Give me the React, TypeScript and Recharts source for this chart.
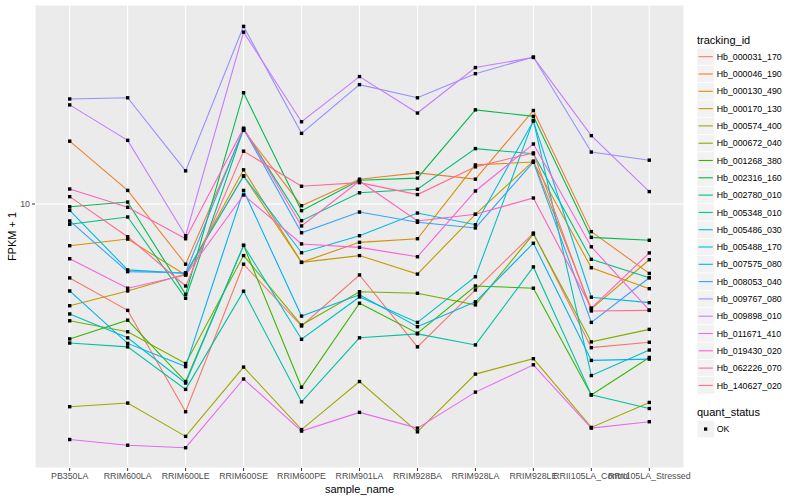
import React from 'react';
import { LineChart, Line, XAxis, YAxis, CartesianGrid } from 'recharts';

const samples = ['PB350LA', 'RRIM600LA', 'RRIM600LE', 'RRIM600SE', 'RRIM600PE', 'RRIM901LA', 'RRIM928BA', 'RRIM928LA', 'RRIM928LE', 'RRII105LA_Control', 'RRII105LA_Stressed'];

const trackingIds = ['Hb_000031_170', 'Hb_000046_190', 'Hb_000130_490', 'Hb_000170_130', 'Hb_000574_400', 'Hb_000672_040', 'Hb_001268_380', 'Hb_002316_160', 'Hb_002780_010', 'Hb_005348_010', 'Hb_005486_030', 'Hb_005488_170', 'Hb_007575_080', 'Hb_008053_040', 'Hb_009767_080', 'Hb_009898_010', 'Hb_011671_410', 'Hb_019430_020', 'Hb_062226_070', 'Hb_140627_020'];

const colors = ['#F8766D', '#EA8331', '#D89000', '#C09B00', '#A3A500', '#7CAE00', '#39B600', '#00BB4E', '#00BF7D', '#00C1A3', '#00BFC4', '#00BAE0', '#00B0F6', '#35A2FF', '#9590FF', '#C77CFF', '#E76BF3', '#FA62DB', '#FF62BC', '#FF6C91'];

const hb_000031_170 = [5.67, 4.42, 2.03, 6.30, 3.92, 5.80, 3.34, 5.17, 8.00, 3.32, 3.46];
const hb_000046_190 = [16.2, 11.1, 6.30, 17.6, 9.87, 12.1, 12.7, 12.1, 20.5, 8.09, 5.87];
const hb_000130_490 = [7.26, 7.64, 5.80, 13.0, 6.39, 7.45, 7.66, 13.5, 13.8, 6.13, 5.22];
const hb_000170_130 = [4.58, 5.13, 5.84, 12.4, 6.39, 6.73, 5.84, 9.24, 13.9, 4.47, 6.52];
const hb_000574_400 = [2.11, 2.17, 1.68, 2.86, 1.77, 2.56, 1.74, 2.71, 3.05, 1.80, 2.18];
const hb_000672_040 = [4.08, 3.75, 2.94, 6.73, 3.95, 5.10, 5.04, 4.61, 7.94, 3.47, 3.82];
const hb_001268_380 = [3.55, 4.10, 2.56, 7.28, 2.45, 4.67, 3.71, 5.33, 5.24, 2.31, 3.08];
const hb_002316_160 = [9.79, 10.15, 5.00, 23.5, 9.50, 12.0, 12.2, 20.6, 19.6, 7.74, 7.57];
const hb_002780_010 = [8.56, 9.05, 4.85, 17.8, 8.80, 10.9, 11.2, 15.3, 14.7, 6.54, 5.68];
const hb_005348_010 = [3.44, 3.34, 2.41, 5.12, 2.19, 3.58, 3.69, 3.39, 6.17, 2.31, 2.08];
const hb_005486_030 = [4.30, 3.58, 2.53, 7.28, 3.54, 4.90, 4.03, 5.72, 19.0, 2.68, 3.26];
const hb_005488_170 = [9.53, 6.03, 5.87, 12.4, 6.88, 7.84, 9.33, 8.53, 18.9, 4.89, 4.69];
const hb_007575_080 = [5.13, 3.43, 2.87, 11.1, 4.23, 4.98, 3.90, 4.72, 7.40, 3.01, 3.04];
const hb_008053_040 = [8.78, 5.95, 5.90, 17.8, 8.02, 9.40, 8.69, 8.32, 13.8, 4.03, 5.68];
const hb_009767_080 = [22.4, 22.6, 12.9, 39.1, 17.2, 25.0, 22.6, 27.2, 30.9, 14.9, 14.0];
const hb_009898_010 = [21.4, 16.3, 7.84, 37.4, 18.8, 26.6, 20.1, 28.5, 30.8, 16.9, 11.0];
const hb_011671_410 = [1.64, 1.57, 1.54, 2.61, 1.75, 2.02, 1.79, 2.36, 2.91, 1.79, 1.88];
const hb_019430_020 = [6.57, 5.24, 5.80, 10.72, 7.36, 7.17, 6.67, 11.05, 15.85, 7.20, 4.43];
const hb_062226_070 = [11.22, 9.75, 7.66, 17.9, 8.45, 11.93, 8.78, 9.24, 10.47, 4.50, 6.87];
const hb_140627_020 = [10.58, 7.78, 5.33, 15.0, 11.46, 11.78, 10.75, 13.3, 14.8, 4.40, 4.42];

const seriesValues = [hb_000031_170, hb_000046_190, hb_000130_490, hb_000170_130, hb_000574_400, hb_000672_040, hb_001268_380, hb_002316_160, hb_002780_010, hb_005348_010, hb_005486_030, hb_005488_170, hb_007575_080, hb_008053_040, hb_009767_080, hb_009898_010, hb_011671_410, hb_019430_020, hb_062226_070, hb_140627_020];

const yTicks = [10];
const yDomain = [1.318, 46.07];

const rows = samples.map((s, i) => {
  const r: Record<string, any> = { sample: s };
  trackingIds.forEach((id, k) => { r[id] = seriesValues[k][i]; });
  return r;
});

const FONT = '"Liberation Sans", Arial, Helvetica, sans-serif';

const makeDot = (id: string) => (props: any) => {
  const { cx, cy, index } = props;
  if (cx == null || cy == null || isNaN(cx) || isNaN(cy)) return <g key={`d-${id}-${index}`} />;
  return <rect key={`d-${id}-${index}`} x={cx - 1.7} y={cy - 1.7} width={3.4} height={3.4} fill="#000000" />;
};

const Legend = () => (
  <svg width={110} height={460} style={{ position: 'absolute', left: 690, top: 20 }}>
    <text x={7} y={24} fontSize={11} fontFamily={FONT} fill="#000">tracking_id</text>
    {trackingIds.map((id, k) => {
      const yc = 36.7 + k * 17.3;
      return (
        <g key={id}>
          <rect x={7} y={yc - 8.6} width={17.3} height={17.3} fill="#F2F2F2" stroke="#FFFFFF" strokeWidth={0.6} />
          <line x1={8.5} x2={22.8} y1={yc} y2={yc} stroke={colors[k]} strokeWidth={1.1} />
          <text x={26.7} y={yc + 3.1} fontSize={8.8} fontFamily={FONT} fill="#000">{id}</text>
        </g>
      );
    })}
    <text x={7} y={396} fontSize={11} fontFamily={FONT} fill="#000">quant_status</text>
    <rect x={7} y={400.4} width={17.3} height={17.3} fill="#F2F2F2" stroke="#FFFFFF" strokeWidth={0.6} />
    <rect x={14} y={407.4} width={3.3} height={3.3} fill="#000" />
    <text x={26.7} y={412.1} fontSize={8.8} fontFamily={FONT} fill="#000">OK</text>
  </svg>
);

export default function App() {
  return (
    <div style={{ position: 'absolute', left: 0, top: 0, width: 800, height: 500, background: '#FFFFFF', fontFamily: FONT }}>
      <LineChart width={800} height={500} data={rows} margin={{ top: 5, right: 116, bottom: 0, left: 0 }}>
        <CartesianGrid fill="#EBEBEB" fillOpacity={1} stroke="#FFFFFF" strokeWidth={1.1} />
        <XAxis
          dataKey="sample"
          type="category"
          interval={0}
          height={32}
          padding={{ left: 34.7, right: 34.7 }}
          axisLine={false}
          tickLine={{ stroke: '#333333' }}
          tickSize={3}
          tickMargin={2}
          tick={{ fontSize: 8.8, fill: '#4D4D4D', fontFamily: FONT }}
          label={{ value: 'sample_name', position: 'insideBottom', offset: 7, style: { fontSize: 11, fill: '#000', fontFamily: FONT } }}
        />
        <YAxis
          scale="log"
          domain={yDomain}
          ticks={yTicks}
          allowDataOverflow
          width={35}
          axisLine={false}
          tickLine={{ stroke: '#333333' }}
          tickSize={3}
          tickMargin={2}
          tick={{ fontSize: 8.8, fill: '#4D4D4D', fontFamily: FONT }}
          label={{ value: 'FPKM + 1', angle: -90, position: 'insideLeft', offset: 12, style: { textAnchor: 'middle', fontSize: 11, fill: '#000', fontFamily: FONT } }}
        />
        {trackingIds.map((id, k) => (
          <Line key={id} dataKey={id} type="linear" stroke={colors[k]} strokeWidth={1.1} dot={false} activeDot={false} isAnimationActive={false} />
        ))}
        {trackingIds.map((id) => (
          <Line key={`pts-${id}`} dataKey={id} type="linear" stroke="none" dot={makeDot(id)} activeDot={false} isAnimationActive={false} legendType="none" />
        ))}
      </LineChart>
      <Legend />
    </div>
  );
}
